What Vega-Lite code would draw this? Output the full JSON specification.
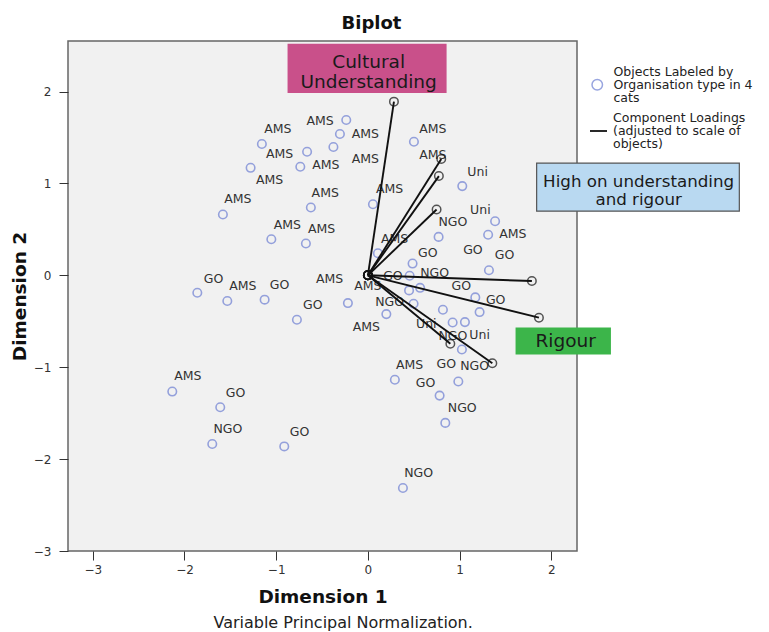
{
  "$schema": "https://vega.github.io/schema/vega-lite/v6.json",
  "autosize": {"type": "none"},
  "padding": {"left": 68, "top": 41, "right": 192, "bottom": 81},
  "width": 509,
  "height": 510,
  "background": "white",
  "title": {"text": "Biplot", "fontSize": 18, "fontWeight": "bold", "font": "DejaVu Sans", "color": "#111", "offset": 8, "dx": 49},
  "config": {
    "font": "DejaVu Sans",
    "view": {"fill": "#f1f1f1", "stroke": "#666", "strokeWidth": 1.5},
    "style": {"guide-label": {"lineHeight": 13, "dy": -13}},
    "axis": {"grid": false, "domain": false, "tickColor": "#333", "tickSize": 9, "labelFontSize": 12, "labelColor": "#333", "titleFontSize": 18.5, "titleFontWeight": "bold", "titleColor": "#111", "format": "d"}
  },
  "datasets": {
    "objects": [
      {"x": -0.236, "y": 1.690}, {"x": -0.305, "y": 1.538}, {"x": -0.376, "y": 1.396}, {"x": -0.663, "y": 1.345},
      {"x": -0.737, "y": 1.181}, {"x": -1.156, "y": 1.429}, {"x": -1.279, "y": 1.170}, {"x": -1.581, "y": 0.662},
      {"x": -0.622, "y": 0.738}, {"x": -1.053, "y": 0.393}, {"x": -0.676, "y": 0.346}, {"x": 0.502, "y": 1.454},
      {"x": 0.055, "y": 0.774}, {"x": 1.029, "y": 0.971}, {"x": 1.387, "y": 0.589}, {"x": 0.771, "y": 0.418},
      {"x": 1.311, "y": 0.442}, {"x": 0.109, "y": 0.240}, {"x": 0.487, "y": 0.128}, {"x": 0.455, "y": -0.005},
      {"x": 0.449, "y": -0.164}, {"x": 0.569, "y": -0.136}, {"x": 1.320, "y": 0.055}, {"x": -0.218, "y": -0.302},
      {"x": 0.498, "y": -0.309}, {"x": 0.201, "y": -0.422}, {"x": 0.818, "y": -0.374}, {"x": 1.171, "y": -0.240},
      {"x": 1.218, "y": -0.400}, {"x": 0.924, "y": -0.513}, {"x": 1.058, "y": -0.509}, {"x": 1.025, "y": -0.807},
      {"x": 0.294, "y": -1.137}, {"x": 0.986, "y": -1.156}, {"x": 0.782, "y": -1.309}, {"x": -1.860, "y": -0.189},
      {"x": -1.533, "y": -0.280}, {"x": -1.126, "y": -0.265}, {"x": -0.774, "y": -0.483}, {"x": -2.133, "y": -1.265},
      {"x": -1.610, "y": -1.436}, {"x": -1.697, "y": -1.835}, {"x": -0.912, "y": -1.862}, {"x": 0.844, "y": -1.606},
      {"x": 0.382, "y": -2.315}
    ],
    "labels": [
      {"x": -0.982, "y": 1.589, "label": "AMS"}, {"x": -0.521, "y": 1.676, "label": "AMS"}, {"x": -0.028, "y": 1.538, "label": "AMS"},
      {"x": -0.963, "y": 1.320, "label": "AMS"}, {"x": -0.458, "y": 1.200, "label": "AMS"}, {"x": -0.028, "y": 1.262, "label": "AMS"},
      {"x": -1.072, "y": 1.036, "label": "AMS"}, {"x": -1.418, "y": 0.826, "label": "AMS"}, {"x": -0.465, "y": 0.894, "label": "AMS"},
      {"x": -0.879, "y": 0.545, "label": "AMS"}, {"x": -0.505, "y": 0.509, "label": "AMS"}, {"x": 0.709, "y": 1.589, "label": "AMS"},
      {"x": 0.709, "y": 1.309, "label": "AMS"}, {"x": 1.196, "y": 1.127, "label": "Uni"}, {"x": 0.237, "y": 0.938, "label": "AMS"},
      {"x": 1.226, "y": 0.716, "label": "Uni"}, {"x": 0.927, "y": 0.575, "label": "NGO"}, {"x": 1.581, "y": 0.447, "label": "AMS"},
      {"x": 0.291, "y": 0.400, "label": "AMS"}, {"x": 0.654, "y": 0.243, "label": "GO"}, {"x": 1.145, "y": 0.280, "label": "GO"},
      {"x": 1.491, "y": 0.218, "label": "GO"}, {"x": -0.418, "y": -0.036, "label": "AMS"}, {"x": 0.0, "y": -0.120, "label": "AMS"},
      {"x": 0.273, "y": -0.011, "label": "GO"}, {"x": 0.727, "y": 0.025, "label": "NGO"}, {"x": 1.019, "y": -0.120, "label": "GO"},
      {"x": 1.393, "y": -0.265, "label": "GO"}, {"x": 0.237, "y": -0.291, "label": "NGO"}, {"x": -0.600, "y": -0.327, "label": "GO"},
      {"x": -0.017, "y": -0.564, "label": "AMS"}, {"x": 0.637, "y": -0.527, "label": "Uni"}, {"x": 0.927, "y": -0.665, "label": "NGO"},
      {"x": 1.218, "y": -0.654, "label": "Uni"}, {"x": 0.455, "y": -0.971, "label": "AMS"}, {"x": 0.855, "y": -0.963, "label": "GO"},
      {"x": 1.164, "y": -0.992, "label": "NGO"}, {"x": 0.629, "y": -1.174, "label": "GO"}, {"x": 1.029, "y": -1.443, "label": "NGO"},
      {"x": -1.683, "y": -0.036, "label": "GO"}, {"x": -1.363, "y": -0.120, "label": "AMS"}, {"x": -0.963, "y": -0.109, "label": "GO"},
      {"x": -1.963, "y": -1.101, "label": "AMS"}, {"x": -1.443, "y": -1.279, "label": "GO"}, {"x": -1.527, "y": -1.672, "label": "NGO"},
      {"x": -0.745, "y": -1.709, "label": "GO"}, {"x": 0.553, "y": -2.156, "label": "NGO"}
    ],
    "loadings": [
      {"x0": 0, "y0": 0, "x": 0.284, "y": 1.890}, {"x0": 0, "y0": 0, "x": 0.800, "y": 1.265},
      {"x0": 0, "y0": 0, "x": 0.774, "y": 1.080}, {"x0": 0, "y0": 0, "x": 0.749, "y": 0.716},
      {"x0": 0, "y0": 0, "x": 1.788, "y": -0.062}, {"x0": 0, "y0": 0, "x": 1.865, "y": -0.461},
      {"x0": 0, "y0": 0, "x": 1.357, "y": -0.956}, {"x0": 0, "y0": 0, "x": 0.899, "y": -0.745}
    ],
    "boxes": [
      {"name": "cultural", "x1": -0.876, "x2": 0.858, "y1": 2.519, "y2": 1.985},
      {"name": "high", "x1": 1.84, "x2": 4.05, "y1": 1.221, "y2": 0.698},
      {"name": "rigour", "x1": 1.61, "x2": 2.65, "y1": -0.567, "y2": -0.861}
    ],
    "notes": [
      {"name": "cultural", "text": "Cultural\nUnderstanding", "x": 0.008, "y": 2.326},
      {"name": "high", "text": "High on understanding\nand rigour", "x": 2.952, "y": 1.017},
      {"name": "rigour", "text": "Rigour", "x": 2.156, "y": -0.720},
      {"name": "foot", "text": "Variable Principal Normalization.", "x": -0.270, "y": -3.785}
    ]
  },
  "layer": [
    {
      "data": {"name": "boxes"},
      "transform": [{"filter": "datum.name == 'cultural'"}],
      "mark": {"type": "rect", "fill": "#c9508a"},
      "encoding": {
        "x": {"field": "x1", "type": "quantitative", "scale": {"domain": [-3.27, 2.28], "nice": false, "zero": false},
              "axis": {"values": [-3, -2, -1, 0, 1, 2], "title": "Dimension 1", "labelPadding": 17, "titlePadding": 12}},
        "x2": {"field": "x2"},
        "y": {"field": "y1", "type": "quantitative", "scale": {"domain": [-3, 2.55], "nice": false, "zero": false},
              "axis": {"values": [-3, -2, -1, 0, 1, 2], "title": "Dimension 2", "labelPadding": 8, "labelOffset": 13, "titlePadding": 4}},
        "y2": {"field": "y2"}
      }
    },
    {
      "data": {"name": "boxes"},
      "transform": [{"filter": "datum.name == 'high'"}],
      "mark": {"type": "rect", "fill": "#b9d9f1", "stroke": "#555", "strokeWidth": 1.2},
      "encoding": {
        "x": {"field": "x1", "type": "quantitative"}, "x2": {"field": "x2"},
        "y": {"field": "y1", "type": "quantitative"}, "y2": {"field": "y2"}
      }
    },
    {
      "data": {"name": "boxes"},
      "transform": [{"filter": "datum.name == 'rigour'"}],
      "mark": {"type": "rect", "fill": "#3cb54a"},
      "encoding": {
        "x": {"field": "x1", "type": "quantitative"}, "x2": {"field": "x2"},
        "y": {"field": "y1", "type": "quantitative"}, "y2": {"field": "y2"}
      }
    },
    {
      "data": {"name": "objects"},
      "mark": {"type": "point", "filled": false, "color": "#6d7fd3", "strokeWidth": 1.6, "size": 72},
      "encoding": {
        "x": {"field": "x", "type": "quantitative"},
        "y": {"field": "y", "type": "quantitative"},
        "shape": {
          "datum": "Objects Labeled by Organisation type in 4 cats", "type": "nominal",
          "scale": {"range": ["circle"]},
          "legend": {
            "orient": "none", "legendX": 523, "legendY": 37.5, "title": null, "padding": 0,
            "symbolSize": 110, "symbolStrokeWidth": 1.5, "symbolStrokeColor": "#6d7fd3", "symbolFillColor": "transparent",
            "labelFont": "DejaVu Sans", "labelFontSize": 12.5, "labelColor": "#222", "labelOffset": 10, "labelLimit": 300,
            "labelExpr": "['Objects Labeled by', 'Organisation type in 4', 'cats']"
          }
        }
      }
    },
    {
      "data": {"name": "labels"},
      "mark": {"type": "text", "fontSize": 12.5, "color": "#333", "align": "center", "baseline": "middle"},
      "encoding": {
        "x": {"field": "x", "type": "quantitative"},
        "y": {"field": "y", "type": "quantitative"},
        "text": {"field": "label"}
      }
    },
    {
      "data": {"name": "loadings"},
      "mark": {"type": "rule", "strokeWidth": 1.9},
      "encoding": {
        "x": {"field": "x0", "type": "quantitative"},
        "y": {"field": "y0", "type": "quantitative"},
        "x2": {"field": "x"},
        "y2": {"field": "y"},
        "color": {
          "datum": "Component Loadings (adjusted to scale of objects)", "type": "nominal",
          "scale": {"range": ["#111111"]},
          "legend": {
            "orient": "none", "legendX": 521, "legendY": 80.5, "title": null, "padding": 0,
            "symbolType": "stroke", "symbolSize": 289, "symbolStrokeWidth": 1.8,
            "labelFont": "DejaVu Sans", "labelFontSize": 12.5, "labelColor": "#222", "labelOffset": 5, "labelLimit": 300,
            "labelExpr": "['Component Loadings', '(adjusted to scale of', 'objects)']"
          }
        }
      }
    },
    {
      "data": {"name": "loadings"},
      "mark": {"type": "point", "shape": "circle", "filled": false, "color": "#111", "strokeWidth": 1.5, "size": 72},
      "encoding": {
        "x": {"field": "x", "type": "quantitative"},
        "y": {"field": "y", "type": "quantitative"}
      }
    },
    {
      "data": {"name": "loadings"},
      "mark": {"type": "point", "shape": "circle", "filled": false, "color": "#111", "strokeWidth": 1.5, "size": 72},
      "encoding": {
        "x": {"field": "x0", "type": "quantitative"},
        "y": {"field": "y0", "type": "quantitative"}
      }
    },
    {
      "data": {"name": "notes"},
      "transform": [{"filter": "datum.name == 'cultural' || datum.name == 'rigour'"}],
      "mark": {"type": "text", "fontSize": 18.5, "color": "#1a1a1a", "align": "center", "baseline": "middle", "lineBreak": "\n", "lineHeight": 20},
      "encoding": {
        "x": {"field": "x", "type": "quantitative"},
        "y": {"field": "y", "type": "quantitative"},
        "text": {"field": "text"}
      }
    },
    {
      "data": {"name": "notes"},
      "transform": [{"filter": "datum.name == 'high'"}],
      "mark": {"type": "text", "fontSize": 16.7, "color": "#1a1a1a", "align": "center", "baseline": "middle", "lineBreak": "\n", "lineHeight": 18.3},
      "encoding": {
        "x": {"field": "x", "type": "quantitative"},
        "y": {"field": "y", "type": "quantitative"},
        "text": {"field": "text"}
      }
    },
    {
      "data": {"name": "notes"},
      "transform": [{"filter": "datum.name == 'foot'"}],
      "mark": {"type": "text", "fontSize": 16, "color": "#222", "align": "center", "baseline": "middle"},
      "encoding": {
        "x": {"field": "x", "type": "quantitative"},
        "y": {"field": "y", "type": "quantitative"},
        "text": {"field": "text"}
      }
    }
  ]
}
